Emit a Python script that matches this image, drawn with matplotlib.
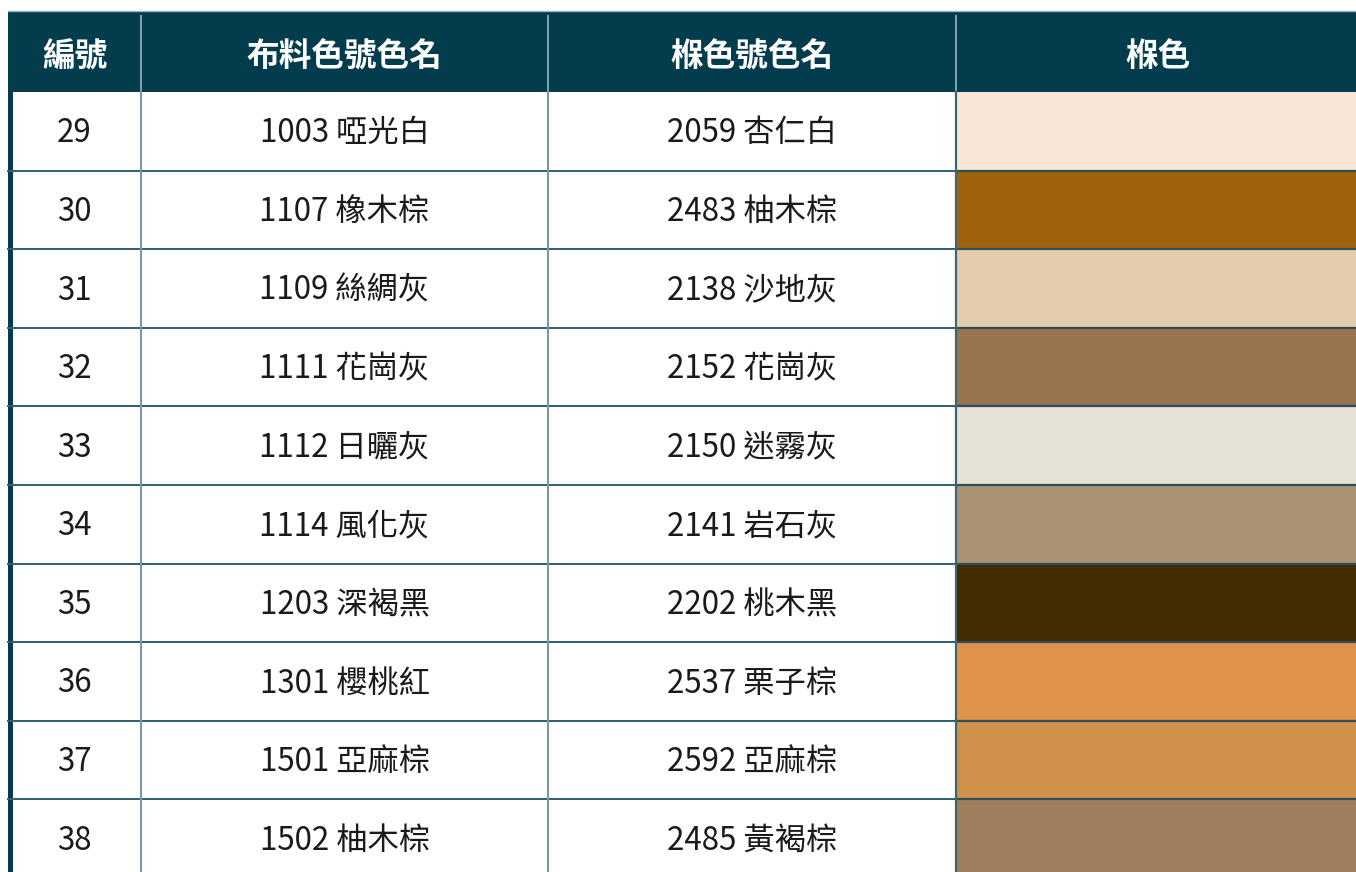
"""Colour matching table: fabric colour codes vs. wood stain swatches."""

import matplotlib

matplotlib.use("Agg")

import matplotlib.pyplot as plt  # noqa: E402
from matplotlib.patches import Rectangle  # noqa: E402

plt.rcParams["font.family"] = ["Noto Sans CJK TC", "DejaVu Sans"]

headers = ["編號", "布料色號色名", "椺色號色名", "椺色"]
ids = ["29", "30", "31", "32", "33", "34", "35", "36", "37", "38"]
fabric_names = [
    "1003 啞光白", "1107 橡木棕", "1109 絲綢灰", "1111 花崗灰", "1112 日曬灰",
    "1114 風化灰", "1203 深褐黑", "1301 櫻桃紅", "1501 亞麻棕", "1502 柚木棕",
]
wood_names = [
    "2059 杏仁白", "2483 柚木棕", "2138 沙地灰", "2152 花崗灰", "2150 迷霧灰",
    "2141 岩石灰", "2202 桃木黑", "2537 栗子棕", "2592 亞麻棕", "2485 黃褐棕",
]
swatch_colors = [
    "#f8e6d6", "#a0620a", "#e4cdae", "#98744f", "#e6e2d8",
    "#aa9275", "#422c00", "#e0934b", "#d0904c", "#a07e5c",
]

# layout in pixel units (axes mapped 1:1 onto the 1356x872 canvas)
W, H = 1356, 872
col_edges = [8, 141, 548, 956, 1360]
header_top, header_bottom = 11, 92
row_h = 78.6
navy = "#023c4d"
body_divider = "#7896a3"
row_line = "#2e5f70"

fig = plt.figure(figsize=(W / 100, H / 100), dpi=100)
ax = fig.add_axes([0, 0, 1, 1])
ax.set_xlim(0, W)
ax.set_ylim(H, 0)
ax.axis("off")

# header band
ax.add_patch(Rectangle((col_edges[0], header_top), col_edges[-1] - col_edges[0],
                       header_bottom - header_top, facecolor=navy, edgecolor="none"))
ax.plot([col_edges[0], col_edges[-1]], [header_top, header_top], color="#9fb3bb", lw=1)
for x in col_edges[1:-1]:
    ax.plot([x, x], [header_top + 5, header_bottom], color="#8aa3ae", lw=1.4)
for i, label in enumerate(headers):
    cx = (col_edges[i] + col_edges[i + 1]) / 2
    ax.text(cx, (header_top + header_bottom) / 2 + 5, label, color="white",
            fontsize=23.5, fontweight="bold", ha="center", va="center")

# body rows
n = len(ids)
for r in range(n):
    y0 = header_bottom + r * row_h
    ax.add_patch(Rectangle((col_edges[3], y0), col_edges[4] - col_edges[3], row_h,
                           facecolor=swatch_colors[r], edgecolor="none"))
    cy = y0 + row_h / 2 + 2
    for c, txt in enumerate([ids[r], fabric_names[r], wood_names[r]]):
        cx = (col_edges[c] + col_edges[c + 1]) / 2
        ax.text(cx, cy, txt, color="#1a1a1a", fontsize=22.5,
                ha="center", va="center")

body_bottom = header_bottom + n * row_h
for r in range(1, n):
    y = header_bottom + r * row_h
    ax.plot([col_edges[0], col_edges[3]], [y, y], color=row_line, lw=1.4)
    ax.plot([col_edges[3], col_edges[4]], [y, y], color="#2c4f5a", lw=1.6)
for x in col_edges[1:3]:
    ax.plot([x, x], [header_bottom, body_bottom], color=body_divider, lw=1.5)
ax.plot([col_edges[3], col_edges[3]], [header_bottom, body_bottom], color="#3c6575", lw=1.6)

# dark stripe on the left edge
ax.add_patch(Rectangle((col_edges[0], header_bottom), 5, body_bottom - header_bottom,
                       facecolor=navy, edgecolor="none"))

fig.savefig("out.png", dpi=100)
